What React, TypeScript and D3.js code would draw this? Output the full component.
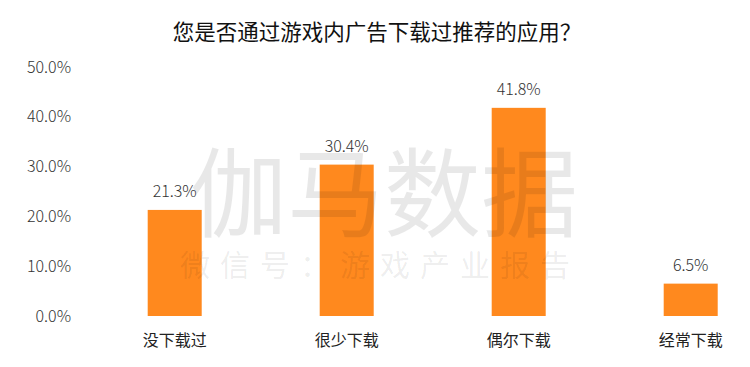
import React from "react";
import * as d3 from "d3";

const categories = ["没下载过", "很少下载", "偶尔下载", "经常下载"];
const values = [21.3, 30.4, 41.8, 6.5];
const yTicks = [0, 10, 20, 30, 40, 50];
const title = "您是否通过游戏内广告下载过推荐的应用？";

const W = 750;
const H = 367;
const FONT = "'Noto Sans CJK SC', 'Noto Sans', sans-serif";

export default function App() {
  const x = d3
    .scaleBand<string>()
    .domain(categories)
    .range([88.7, 776.7])
    .paddingInner(0.686)
    .paddingOuter(0.343);
  const y = d3.scaleLinear().domain([0, 50]).range([316, 67]);

  return (
    <svg
      width={W}
      height={H}
      style={{ position: "absolute", left: 0, top: 0, background: "#fff" }}
      fontFamily={FONT}
    >
      <text x={377} y={40} textAnchor="middle" fontSize={21.5} fill="#111" fontWeight={400}>
        {title}
      </text>
      {yTicks.map((t) => (
        <text key={t} x={71} y={y(t) + 5.5} textAnchor="end" fontSize={16} fill="#333" fontWeight={300}>
          {t.toFixed(1)}%
        </text>
      ))}
      {categories.map((c, i) => (
        <g key={c}>
          <rect
            x={x(c)}
            y={y(values[i])}
            width={x.bandwidth()}
            height={y(0) - y(values[i])}
            fill="#ff891e"
          />
          <text
            x={(x(c) as number) + x.bandwidth() / 2}
            y={y(values[i]) - 13}
            textAnchor="middle"
            fontSize={16}
            fill="#333"
            fontWeight={300}
          >
            {values[i].toFixed(1)}%
          </text>
          <text
            x={(x(c) as number) + x.bandwidth() / 2}
            y={346}
            textAnchor="middle"
            fontSize={16}
            fill="#222"
          >
            {c}
          </text>
        </g>
      ))}
      <g pointerEvents="none">
        <text
          x={384}
          y={229}
          textAnchor="middle"
          fontSize={97}
          fill="#000"
          fillOpacity={0.09}
          fontWeight={400}
        >
          伽马数据
        </text>
        <text
          x={380}
          y={276}
          textAnchor="middle"
          fontSize={30}
          fill="#000"
          fillOpacity={0.08}
          fontWeight={400}
          letterSpacing={10}
        >
          微信号：游戏产业报告
        </text>
      </g>
    </svg>
  );
}
